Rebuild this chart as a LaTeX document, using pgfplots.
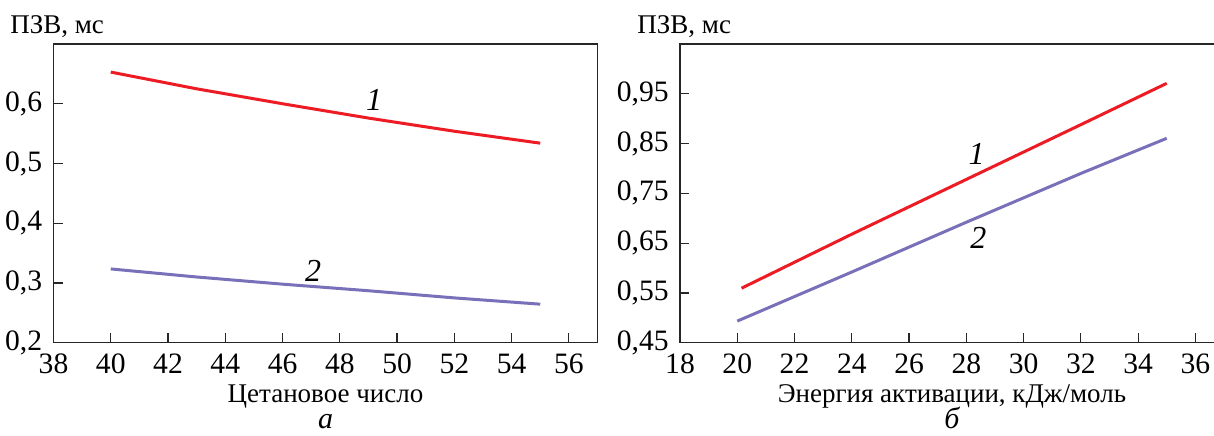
\documentclass[border=0pt]{standalone}
\usepackage{fontspec}
\setmainfont{Liberation Serif}
\usepackage{pgfplots}
\pgfplotsset{compat=1.18}
\definecolor{cred}{RGB}{237,28,36}
\definecolor{cblue}{RGB}{120,112,184}
\pgfplotsset{
  panel/.style={
    scale only axis, width=272pt, height=149.35pt,
    axis line style={black!85, line width=0.75pt},
    major tick style={black!85, line width=0.6pt},
    major tick length=4.7pt,
    xtick pos=bottom, ytick pos=left,
    clip=false,
    /pgf/number format/assume math mode=true,
    /pgf/number format/use comma,
    /pgf/number format/fixed,
    /pgf/number format/precision=2,
    tick label style={font=\fontsize{14.8}{17}\selectfont},
    yticklabel style={inner sep=0pt, xshift=-5.5pt},
    xticklabel style={inner sep=0pt, yshift=-5.5pt},
  }
}
\begin{document}
\fontsize{13.5}{16}\selectfont
\begin{tikzpicture}
\begin{axis}[panel, name=A,
  xmin=38, xmax=57, ymin=0.2, ymax=0.7,
  xtick={38,40,...,56}, ytick={0.2,0.3,0.4,0.5,0.6}]
\addplot[cred, line width=1.5pt] coordinates {(40,0.653) (43,0.625) (46,0.600) (49,0.576) (52,0.554) (55,0.534)};
\addplot[cblue, line width=1.5pt] coordinates {(40,0.3235) (43,0.310) (46,0.298) (49,0.287) (52,0.275) (55,0.2645)};
\node[font=\fontsize{16}{18}\selectfont\itshape] at (axis cs:49.2,0.606) {1};
\node[font=\fontsize{16}{18}\selectfont\itshape] at (axis cs:47.07,0.320) {2};
\node[anchor=base west, inner sep=0pt] at (rel axis cs:0,1) [xshift=-21.75pt, yshift=5.5pt] {ПЗВ, мс};
\node[anchor=base, inner sep=0pt] at (rel axis cs:0.5,0) [yshift=-29.65pt] {Цетановое число};
\node[anchor=base, inner sep=0pt, font=\fontsize{15}{17}\selectfont\itshape] at (rel axis cs:0.5,0) [yshift=-43pt] {а};
\end{axis}
\begin{axis}[panel, name=B, at={(313.25pt,0pt)}, anchor=origin,
  xmin=18, xmax=37, ymin=0.45, ymax=1.05,
  xtick={18,20,...,36}, ytick={0.45,0.55,0.65,0.75,0.85,0.95}]
\addplot[cred, line width=1.5pt] coordinates {(20.15,0.5595) (24,0.668) (28,0.778) (32,0.888) (35,0.971)};
\addplot[cblue, line width=1.5pt] coordinates {(20,0.4934) (24,0.592) (28,0.692) (32,0.790) (35,0.8606)};
\node[font=\fontsize{16}{18}\selectfont\itshape] at (axis cs:28.36,0.829) {1};
\node[font=\fontsize{16}{18}\selectfont\itshape] at (axis cs:28.42,0.660) {2};
\node[anchor=base west, inner sep=0pt] at (rel axis cs:0,1) [xshift=-21.5pt, yshift=5.5pt] {ПЗВ, мс};
\node[anchor=base, inner sep=0pt] at (rel axis cs:0.5,0) [yshift=-29.65pt] {Энергия активации, кДж/моль};
\node[anchor=base, inner sep=0pt, font=\fontsize{15}{17}\selectfont\itshape] at (rel axis cs:0.5,0) [yshift=-43pt] {б};
\end{axis}
\pgfresetboundingbox
\path[use as bounding box] (-26.75pt,-46.15pt) rectangle (580.25pt,171.35pt);
\end{tikzpicture}
\end{document}
